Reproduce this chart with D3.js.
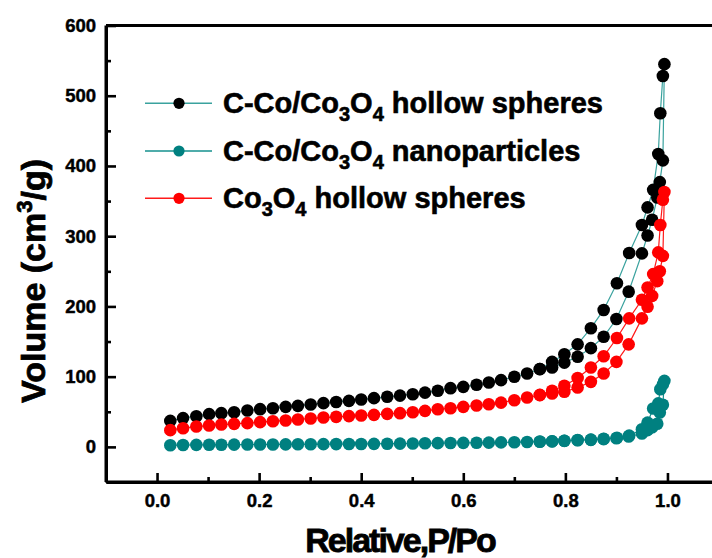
<!DOCTYPE html>
<html>
<head>
<meta charset="utf-8">
<script src="https://cdn.jsdelivr.net/npm/d3@7"></script>
<style>
  html, body { margin: 0; padding: 0; background: #fff; }
  svg { display: block; font-family: "Liberation Sans", Arial, Helvetica, sans-serif; font-weight: bold; }
</style>
</head>
<body>
<svg id="chart" width="712" height="558"></svg>
<script>
// N2 sorption isotherms: relative pressure vs adsorbed volume (cm3/g)

// Relative pressures of the adsorption branch
const pressureAds = [0.026, 0.051, 0.077, 0.102, 0.126, 0.151, 0.177, 0.202, 0.227, 0.252,
  0.276, 0.301, 0.326, 0.351, 0.376, 0.400, 0.425, 0.451, 0.476, 0.501,
  0.525, 0.550, 0.575, 0.600, 0.626, 0.650, 0.674, 0.700, 0.725, 0.750,
  0.774, 0.798, 0.824, 0.850, 0.875, 0.900, 0.924, 0.950, 0.961, 0.970,
  0.980, 0.985, 0.991, 0.994];
// Relative pressures of the desorption branch
const pressureDes = [0.991, 0.986, 0.982, 0.972, 0.961, 0.950, 0.925, 0.901, 0.875, 0.850,
  0.824, 0.798, 0.774, 0.750];

// C-Co/Co3O4 hollow spheres
const hollowCAds = [37, 41, 43.7, 46.6, 48, 49.4, 51.8, 53.7, 55, 57,
  58.4, 60.3, 62.3, 64, 65.5, 67.4, 69.4, 71.3, 73, 75,
  77.2, 80, 83.6, 85.5, 88.4, 91.7, 95, 99.8, 104.5, 110.7,
  113, 120, 128.3, 140.6, 156.8, 182, 221, 275.5, 301, 323.5,
  355, 377, 408, 545];
const hollowCDes = [528, 475, 417, 366, 341, 316, 276, 233, 195, 169, 146, 132, 121, 111];

// C-Co/Co3O4 nanoparticles
const nanoAds = [2.4, 2.6, 2.8, 3.0, 3.1, 3.2, 3.3, 3.4, 3.5, 3.6,
  3.7, 3.8, 3.9, 4.0, 4.1, 4.2, 4.3, 4.5, 4.7, 4.9,
  5.1, 5.3, 5.5, 5.7, 5.9, 6.1, 6.4, 6.7, 7.0, 7.4,
  7.9, 8.5, 9.5, 10, 11, 12.4, 14.7, 19, 23.8, 28,
  33, 49, 60, 94];
const nanoDes = [89, 82, 62, 54.6, 34.6, 25, 16, 13, 11.5, 10.4, 9.8, 8.8, 8.1, 7.6];

// Co3O4 hollow spheres
const hollowAds = [23.8, 26.6, 29, 30.4, 31.8, 32.8, 33.8, 35.2, 36.6, 37.5,
  39, 40.4, 41.8, 42.8, 43.8, 44.7, 45.6, 47, 48, 49.4,
  51.3, 53.5, 55, 57, 58.9, 60.8, 63, 66.5, 70.3, 73.7,
  76, 78.4, 84.5, 92.6, 104.5, 121, 146, 183, 199.5, 215,
  236, 250, 272, 363];
const hollowDes = [352, 316, 277, 246, 227, 209.5, 183, 155, 129, 113, 98, 87, 80, 74];

// Legend labels: [text, isSubscript]
const seriesLabels = [
  [["C-Co/Co", false], ["3", true], ["O", false], ["4", true], [" hollow spheres", false]],
  [["C-Co/Co", false], ["3", true], ["O", false], ["4", true], [" nanoparticles", false]],
  [["Co", false], ["3", true], ["O", false], ["4", true], [" hollow spheres", false]]
];
const markerColors = ["#000000", "#008080", "#ff0000"];
const lineColors = ["#3aa29e", "#14908e", "#ff1a1a"];

const xMajorTicks = [0.0, 0.2, 0.4, 0.6, 0.8, 1.0];
const xMinorTicks = [-0.1, 0.1, 0.3, 0.5, 0.7, 0.9];
const yMajorTicks = [0, 100, 200, 300, 400, 500, 600];
const yMinorTicks = [50, 150, 250, 350, 450, 550];

const series = [
  { ads: hollowCAds, des: hollowCDes },
  { ads: nanoAds, des: nanoDes },
  { ads: hollowAds, des: hollowDes }
].map((s, i) => ({
  points: pressureAds.map((p, k) => [p, s.ads[k]])
    .concat(pressureDes.map((p, k) => [p, s.des[k]])),
  marker: markerColors[i],
  line: lineColors[i],
  label: seriesLabels[i]
}));

const svg = d3.select("#chart");

const x = d3.scaleLinear().domain([-0.1, 1.1]).range([106, 718.5]);
const y = d3.scaleLinear().domain([-50, 600]).range([482, 25.5]);

// Frame (top and right sides; right side falls past the canvas edge)
svg.append("path")
  .attr("d", `M${x(-0.1)},${y(600)}H${x(1.1)}V${y(-50)}`)
  .attr("fill", "none").attr("stroke", "#000").attr("stroke-width", 3);

// Y axis
const yAxis = svg.append("g").attr("transform", `translate(${x(-0.1)},0)`)
  .call(d3.axisLeft(y).tickValues(yMajorTicks).tickSize(-10).tickSizeOuter(0).tickPadding(10).tickFormat(d3.format("d")));
const yMinor = svg.append("g").attr("transform", `translate(${x(-0.1)},0)`)
  .call(d3.axisLeft(y).tickValues(yMinorTicks).tickSize(-5).tickSizeOuter(0).tickFormat(""));

// X axis
const xAxis = svg.append("g").attr("transform", `translate(0,${y(-50)})`)
  .call(d3.axisBottom(x).tickValues(xMajorTicks).tickSize(-9).tickSizeOuter(0).tickPadding(12).tickFormat(d3.format(".1f")));
const xMinor = svg.append("g").attr("transform", `translate(0,${y(-50)})`)
  .call(d3.axisBottom(x).tickValues(xMinorTicks).tickSize(-5).tickSizeOuter(0).tickFormat(""));

[yAxis, yMinor, xAxis, xMinor].forEach(g => {
  g.select(".domain").attr("stroke", "#000").attr("stroke-width", 3);
  g.selectAll(".tick line").attr("stroke", "#000").attr("stroke-width", 2.6);
  g.selectAll(".tick text")
    .attr("fill", "#000")
    .attr("stroke", "#000").attr("stroke-width", 0.45)
    .style("font-family", "'Liberation Sans', Arial, sans-serif")
    .style("font-weight", "bold")
    .style("font-size", "18.5px");
});
xAxis.select(".domain").attr("d", `M${x(-0.1)},0H${x(1.1)}`);
yAxis.select(".domain").attr("d", `M0,${y(-50)}V${y(600)}`);

// Axis titles
svg.append("text")
  .attr("x", 400).attr("y", 552)
  .attr("text-anchor", "middle")
  .attr("stroke", "#000").attr("stroke-width", 0.8)
  .style("font-size", "34px").style("letter-spacing", "-2px")
  .text("Relative,P/Po");

const yTitle = svg.append("text")
  .attr("transform", "translate(45,281) rotate(-90)")
  .attr("text-anchor", "middle")
  .attr("stroke", "#000").attr("stroke-width", 0.8)
  .style("font-size", "34px");
yTitle.append("tspan").text("Volume (cm");
yTitle.append("tspan").attr("dy", -13).style("font-size", "22px").text("3");
yTitle.append("tspan").attr("dy", 13).text("/g)");

// Isotherm curves and markers
const line = d3.line().x(d => x(d[0])).y(d => y(d[1]));
series.forEach(s => {
  const g = svg.append("g");
  g.append("path").datum(s.points)
    .attr("d", line).attr("fill", "none")
    .attr("stroke", s.line).attr("stroke-width", 1.2);
  g.selectAll("circle").data(s.points).join("circle")
    .attr("cx", d => x(d[0])).attr("cy", d => y(d[1]))
    .attr("r", 6.3).attr("fill", s.marker);
});

// Legend
const legendRowY = [103.3, 151, 198.3];
series.forEach((s, i) => {
  const g = svg.append("g").attr("transform", `translate(0,${legendRowY[i]})`);
  g.append("line").attr("x1", 145).attr("x2", 212).attr("y1", 0).attr("y2", 0)
    .attr("stroke", s.line).attr("stroke-width", 1.4);
  g.append("circle").attr("cx", 179).attr("cy", 0).attr("r", 5.6).attr("fill", s.marker);
  const t = g.append("text").attr("x", 223).attr("y", 9.5)
    .attr("stroke", "#000").attr("stroke-width", 0.6)
    .style("font-size", "29px");
  let lowered = false;
  s.label.forEach(([txt, sub]) => {
    const ts = t.append("tspan").text(txt);
    if (sub && !lowered) { ts.attr("dy", 8); lowered = true; }
    else if (!sub && lowered) { ts.attr("dy", -8); lowered = false; }
    if (sub) ts.style("font-size", "20px");
  });
});
</script>
</body>
</html>
